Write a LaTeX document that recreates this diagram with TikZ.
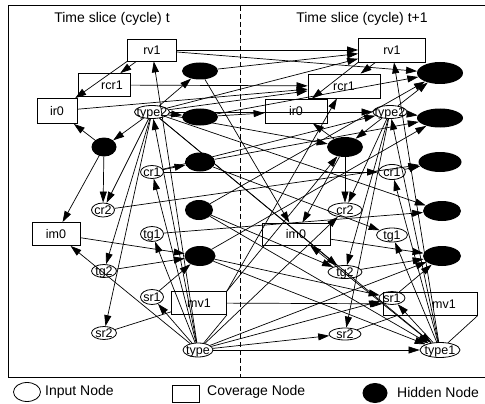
\documentclass[tikz,border=0pt]{standalone}
\usepackage{fontspec}
\setmainfont{Liberation Sans}
\usetikzlibrary{arrows.meta,shapes.geometric}
\newcommand{\zl}[1]{\smash{\makebox[0pt]{\raisebox{-0.36em}{#1}}}}
\begin{document}
\begin{tikzpicture}[x=1pt,y=-1pt,
  nfont/.style={font=\fontsize{12.5}{14}\selectfont},
  inp/.style={draw, ellipse, inner sep=0pt, line width=0.8pt, nfont},
  cov/.style={draw, rectangle, inner sep=0pt, line width=0.8pt, nfont},
  hid/.style={fill=black, ellipse, inner sep=0pt},
  arr/.style={-{Triangle[length=11pt,width=7pt]}, line width=0.7pt},
  ln/.style={line width=0.7pt},
  frame/.style={line width=1pt},
  title/.style={font=\fontsize{14}{16}\selectfont},
  leg/.style={font=\fontsize{14}{16}\selectfont, anchor=west, inner sep=0pt},
]
\useasboundingbox (0,0) rectangle (485,404);
% frame
\coordinate (ftl) at (8,6);
\coordinate (ftr) at (485,6);
\coordinate (fbl) at (8,377);
\coordinate (fbr) at (485,377);
\coordinate (dt) at (240,6);
\coordinate (db) at (240,377);
\draw[frame] (ftr) -- (ftl) -- (fbl) -- (fbr);
\draw[frame, dash pattern=on 5pt off 3pt] (dt) -- (db);
\node[title] (T1) at (112,19) {Time slice (cycle) t};
\node[title] (T2) at (362,19) {Time slice (cycle) t+1};

% left slice nodes
\node[cov, minimum width=49pt, minimum height=22pt] (Lrv1) at (152,50) {rv1};
\node[hid, minimum width=36pt, minimum height=17pt] (Lh1) at (200,71) {};
\node[cov, minimum width=52pt, minimum height=23pt] (Lrcr1) at (104,85) {\hspace*{16pt}rcr1};
\node[cov, minimum width=40pt, minimum height=25pt] (Lir0) at (57,111) {ir0};
\node[inp, minimum width=35pt, minimum height=13pt] (Ltype2) at (152,112) {\zl{type2}};
\node[hid, minimum width=36pt, minimum height=17pt] (Lh2) at (200,117) {};
\node[hid, minimum width=25pt, minimum height=19pt] (Lh0) at (104,147) {};
\node[inp, minimum width=23pt, minimum height=13pt] (Lcr1) at (152,172) {\zl{cr1}};
\node[hid, minimum width=30pt, minimum height=19pt] (Lh3) at (200,162) {};
\node[inp, minimum width=23pt, minimum height=14pt] (Lcr2) at (103,210) {\zl{cr2}};
\node[hid, minimum width=28pt, minimum height=20pt] (Lh4) at (199,210) {};
\node[cov, minimum width=48pt, minimum height=23pt] (Lim0) at (56,234) {im0};
\node[inp, minimum width=23pt, minimum height=15pt] (Ltg1) at (152,234) {\zl{tg1}};
\node[hid, minimum width=31pt, minimum height=20pt] (Lh5) at (200,256) {};
\node[inp, minimum width=25pt, minimum height=13pt] (Ltg2) at (104,271) {\zl{tg2}};
\node[inp, minimum width=23pt, minimum height=15pt] (Lsr1) at (152,297) {\zl{sr1}};
\node[cov, minimum width=55pt, minimum height=23pt] (Lmv1) at (199,303) {mv1};
\node[inp, minimum width=25pt, minimum height=13pt] (Lsr2) at (104,333) {\zl{sr2}};
\node[inp, minimum width=30pt, minimum height=14pt] (Ltype) at (198,350) {\zl{type}};

% right slice nodes
\node[cov, minimum width=67pt, minimum height=24pt] (Rrv1) at (392,50) {rv1};
\node[hid, minimum width=46pt, minimum height=22pt] (Rh1) at (440,73) {};
\node[cov, minimum width=72pt, minimum height=24pt] (Rrcr1) at (344,86) {rcr1};
\node[cov, minimum width=62pt, minimum height=24pt] (Rir0) at (296,111) {ir0};
\node[inp, minimum width=34pt, minimum height=13pt] (Rtype2) at (390,112) {\zl{type2}};
\node[hid, minimum width=46pt, minimum height=19pt] (Rh2) at (440,118) {};
\node[hid, minimum width=36pt, minimum height=20pt] (Rh0) at (345,147) {};
\node[hid, minimum width=43pt, minimum height=20pt] (Rh3) at (440,162) {};
\node[inp, minimum width=27pt, minimum height=15pt] (Rcr1) at (392,172) {\zl{cr1}};
\node[inp, minimum width=34pt, minimum height=14pt] (Rcr2) at (345,210) {\zl{cr2}};
\node[hid, minimum width=38pt, minimum height=20pt] (Rh4) at (442,211) {};
\node[cov, minimum width=68pt, minimum height=22pt] (Rim0) at (296,234) {im0};
\node[inp, minimum width=31pt, minimum height=14pt] (Rtg1) at (392,235) {\zl{tg1}};
\node[hid, minimum width=38pt, minimum height=20pt] (Rh5) at (442,256) {};
\node[inp, minimum width=34pt, minimum height=13pt] (Rtg2) at (345,272) {\zl{tg2}};
\node[inp, minimum width=26pt, minimum height=13pt] (Rsr1) at (392,298) {\zl{sr1}};
\node[cov, minimum width=94pt, minimum height=23pt] (Rmv1) at (430,304) {\hspace*{28pt}mv1};
\node[inp, minimum width=32pt, minimum height=12pt] (Rsr2) at (345,334) {\zl{sr2}};
\node[inp, minimum width=40pt, minimum height=15pt] (Rtype1) at (440,350) {\zl{type1}};

% intra-slice edges (both slices)
\foreach \S/\T in {L/Ltype, R/Rtype1} {
  \draw[arr] (\S rv1) -- (\S rcr1);
  \draw[arr] (\S rv1.south west) -- (\S ir0);
  \draw[arr] (\S h0) -- (\S ir0);
  \draw[arr] (\S type2) -- (\S h0);
  \draw[arr] (\S h0) -- (\S cr2);
  \draw[arr] (\S h0) -- (\S im0);
  \draw[arr] (\T) -- (\S rv1);
  \draw[arr] (\T) -- (\S type2);
  \draw[arr] (\T) -- (\S cr1);
  \draw[arr] (\T) -- (\S tg1);
  \draw[arr] (\T) -- (\S sr1);
  \draw[arr] (\T) -- (\S im0);
  \draw[ln] (\T) -- (\S mv1.south east);
  \draw[arr] (\S type2) -- (\S tg2);
  \draw[arr] (\S type2) -- (\S sr2);
  \draw[arr] (\S type2) -- (\S cr2);
  \draw[arr] (\S type2) -- (\S h1);
  \draw[arr] (\S type2) -- (\S h2);
  \draw[arr] (\S cr1) -- (\S h3);
  \draw[arr] (\S tg2) -- (\S h5);
  \draw[arr] (\S im0) -- (\S h5);
  \draw[arr] (\S sr1) -- (\S h5);
  \draw[ln] (\S sr2) -- (\S mv1);
}

% inter-slice edges
\draw[arr] (Lrv1) -- (Rrv1);
\draw[arr] (Lh1) -- (Rrv1);
\draw[arr] (Lrv1) -- (Rh1);
\draw[arr] (Lrcr1) -- (Rrcr1);
\draw[arr] (Lir0) -- (Rrcr1);
\draw[arr] (Lh2) -- (Rir0);
\draw[arr] (Ltype2) -- (Rrv1);
\draw[arr] (Ltype2) -- (Rrcr1);
\draw[arr] (Ltype2) -- (Rh0);
\draw[arr] (Ltype2) -- (Rtype2);
\draw[arr] (Ltype2) -- (Rtg2);
\draw[arr] (Ltype2) -- (Rtype1);
\draw[arr] (Ltype2) -- (Rh4);
\draw[arr] (Lh1) -- (Rim0);
\draw[arr] (Lh2) -- (Rh1);
\draw[arr] (Lcr1) -- (Rcr1);
\draw[arr] (Lcr1) -- (Rtype2);
\draw[arr] (Lh3) -- (Rh2);
\draw[arr] (Lh3) -- (Rtg1);
\draw[arr] (Lcr2) -- (Rh3);
\draw[arr] (Lh4) -- (Rh1);
\draw[arr] (Lh4) -- (Rtg2);
\draw[arr] (Ltg1) -- (Rh4);
\draw[arr] (Lh5) -- (Rh2);
\draw[arr] (Lh5) -- (Rsr1);
\draw[arr] (Lh5) -- (Rtype1);
\draw[arr] (Lmv1.north east) -- (Rh0);
\draw[arr] (Lmv1.north east) -- (Rrcr1);
\draw[arr] (Lmv1) -- (Rmv1);
\draw[arr] (Ltype) -- (Rsr2);
\draw[arr] (Ltype) -- (Rtype1);
\draw[arr] (Ltype) -- (Rsr1);
\draw[arr] (Ltype) -- (Rh5);
\draw[arr] (Ltype) -- (Rcr2);
\draw[arr] (Lh4) -- (Rtype1);

% legend
\node[draw, ellipse, line width=0.8pt, minimum width=27pt, minimum height=19pt, inner sep=0pt] (LgI) at (27,392) {};
\node[leg] (LgIt) at (45,392) {Input Node};
\node[draw, rectangle, line width=0.8pt, minimum width=27pt, minimum height=17pt, inner sep=0pt] (LgC) at (185.5,393.5) {};
\node[leg] (LgCt) at (207,392) {Coverage Node};
\node[hid, minimum width=25pt, minimum height=20pt] (LgH) at (375,393) {};
\node[leg] (LgHt) at (397,392) {Hidden Node};
\end{tikzpicture}
\end{document}
